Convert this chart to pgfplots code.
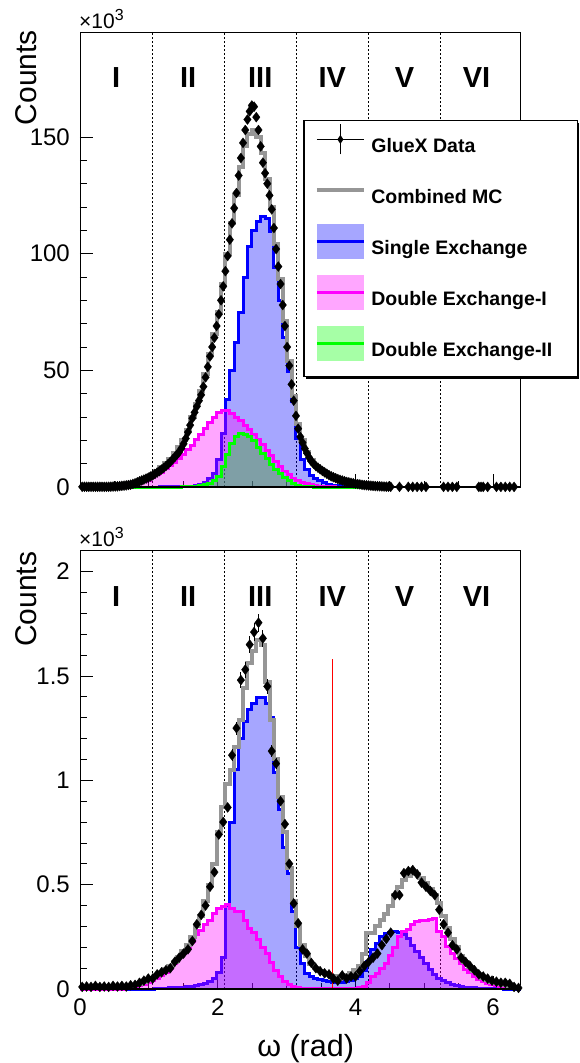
\documentclass[border=0pt]{standalone}
\usepackage{fontspec}
\setmainfont{Liberation Sans}
\usepackage{pgfplots}
\usepackage{pgfplotstable}
\pgfplotsset{compat=1.18}
\definecolor{rootgray}{RGB}{150,150,150}
\definecolor{rblue}{RGB}{0,0,255}
\definecolor{rmag}{RGB}{255,0,255}
\definecolor{rgreen}{RGB}{0,255,0}
\definecolor{rred}{RGB}{255,0,0}

% top panel: bin left edge, single, double-I, double-II, combined (x10^3)
\pgfplotstableread{
e b m g c
0.512 0 0.2 0 0.3
0.576 0 0.4 0 0.5
0.640 0 0.6 0 0.7
0.704 0 0.9 0 1.1
0.768 0 1.2 0 1.6
0.832 0 1.6 0 2.4
0.896 0 2.2 0 3.3
0.960 0 3.0 0 4.4
1.024 0 4.0 0 5.7
1.088 0 5.2 0 7.0
1.152 0.05 6.4 0 8.5
1.216 0.1 7.8 0 10.2
1.280 0.1 9.2 0 12.2
1.344 0.15 10.7 0 14.4
1.408 0.2 12.3 0 17.0
1.472 0.25 14.0 0.05 20.3
1.536 0.3 16.0 0.1 24.5
1.600 0.4 18.0 0.15 30.0
1.664 0.6 20.2 0.3 35.5
1.728 1.2 22.5 0.5 41.0
1.792 2.0 25.0 0.9 48.5
1.856 3.5 27.5 1.5 57.0
1.920 6.0 30.0 2.8 65.5
1.984 12.0 32.0 4.5 75.0
2.048 22.9 33.0 8.6 87.0
2.112 37.5 32.8 14.0 100.0
2.176 50.0 31.5 18.8 113.0
2.240 62.0 30.0 21.5 125.0
2.304 75.0 28.5 22.8 137.0
2.368 90.0 26.5 22.6 146.0
2.432 103.0 24.5 21.5 151.5
2.496 110.0 22.7 19.8 153.0
2.560 114.0 20.5 17.0 150.0
2.624 115.8 18.3 14.5 143.0
2.688 115.0 15.7 12.2 132.0
2.752 109.5 13.3 9.5 120.0
2.816 94.0 11.0 7.5 104.0
2.880 80.0 8.6 5.6 89.0
2.944 64.0 6.8 4.0 71.0
3.008 49.5 5.2 2.7 54.0
3.072 36.6 3.6 1.5 39.0
3.136 21.0 2.6 0.8 27.0
3.200 12.0 1.8 0.4 20.0
3.264 7.5 1.3 0.2 15.0
3.328 5.0 0.9 0.1 11.5
3.392 3.8 0.6 0 9.2
3.456 2.8 0.4 0 7.7
3.520 1.8 0.2 0 6.4
3.584 1.2 0.1 0 5.2
3.648 0.8 0.05 0 4.3
3.712 0.5 0 0 3.5
3.776 0.3 0 0 2.8
3.840 0.2 0 0 2.2
3.904 0.1 0 0 1.8
3.968 0.05 0 0 1.4
4.032 0 0 0 1.1
4.096 0 0 0 0.85
4.160 0 0 0 0.65
4.224 0 0 0 0.5
4.288 0 0 0 0.35
4.352 0 0 0 0.25
4.416 0 0 0 0.15
4.480 0 0 0 0.1
4.544 0 0 0 0.1
}\toptab

\pgfplotstableread{
x y
0.032 0.1
0.064 0.1
0.096 0.1
0.128 0.1
0.160 0.1
0.192 0.1
0.224 0.1
0.256 0.1
0.288 0.1
0.320 0.1
0.352 0.1
0.384 0.1
0.416 0.1
0.448 0.15
0.480 0.2
0.512 0.25
0.544 0.3
0.576 0.4
0.608 0.5
0.640 0.6
0.672 0.7
0.704 0.85
0.736 1.0
0.768 1.3
0.800 1.6
0.832 2.0
0.864 2.4
0.896 2.8
0.928 3.2
0.960 3.6
0.992 4.0
1.024 4.5
1.056 5.0
1.088 5.6
1.120 6.2
1.152 6.8
1.184 7.5
1.216 8.2
1.248 9.0
1.280 9.9
1.312 10.8
1.344 11.8
1.376 12.8
1.408 13.9
1.440 15.0
1.472 16.6
1.504 18.5
1.536 20.8
1.568 23.5
1.600 26.5
1.632 29.5
1.664 32.0
1.696 34.5
1.728 37.0
1.760 39.5
1.792 43.0
1.824 47
1.856 51.5
1.888 56
1.920 60
1.952 64
1.984 69
2.016 74
2.048 80
2.080 86
2.112 92.5
2.144 99
2.176 106
2.208 113
2.240 119.5
2.272 126
2.304 133.5
2.336 141
2.368 147.5
2.400 153
2.432 157.5
2.464 161
2.496 163.5
2.528 163
2.560 158.5
2.592 153
2.624 146
2.656 139
2.688 134.5
2.720 130
2.752 125
2.784 119
2.816 111
2.848 102
2.880 94.5
2.912 87
2.944 78
2.976 69
3.008 60
3.040 52
3.072 44
3.104 37
3.136 30.5
3.168 25
3.200 21.5
3.232 19
3.264 16.5
3.296 14.5
3.328 12.6
3.360 11
3.392 10
3.424 9
3.456 8.3
3.488 7.6
3.520 6.9
3.552 6.3
3.584 5.7
3.616 5.1
3.648 4.6
3.680 4.2
3.712 3.8
3.744 3.4
3.776 3.1
3.808 2.8
3.840 2.5
3.872 2.2
3.904 2.0
3.936 1.8
3.968 1.6
4.000 1.4
4.032 1.25
4.064 1.1
4.096 0.95
4.128 0.85
4.160 0.75
4.192 0.65
4.224 0.55
4.256 0.5
4.288 0.42
4.320 0.35
4.352 0.3
4.384 0.25
4.416 0.2
4.448 0.15
4.480 0.12
4.512 0.1
4.640 0.05
4.768 0.05
4.832 0.05
4.896 0.05
4.960 0.05
5.024 0.05
5.280 0.05
5.344 0.05
5.408 0.05
5.472 0.05
5.792 0.05
5.824 0.05
5.856 0.05
5.920 0.05
6.048 0.05
6.112 0.05
6.176 0.05
6.240 0.05
6.304 0.05
}\topdata

% bottom panel: bin left edge, single, double-I, combined (x10^3)
\pgfplotstableread{
e b m c
0.000 0 0 0.01
0.064 0 0 0.01
0.128 0 0 0.01
0.192 0 0 0.01
0.256 0 0 0.01
0.320 0 0 0.01
0.384 0 0 0.01
0.448 0 0 0.01
0.512 0 0 0.012
0.576 0 0 0.012
0.640 0 0.003 0.013
0.704 0 0.005 0.015
0.768 0 0.01 0.02
0.832 0 0.015 0.025
0.896 0 0.02 0.035
0.960 0 0.03 0.045
1.024 0 0.04 0.055
1.088 0.002 0.05 0.065
1.152 0.003 0.065 0.08
1.216 0.004 0.08 0.095
1.280 0.005 0.10 0.11
1.344 0.006 0.12 0.13
1.408 0.007 0.15 0.155
1.472 0.008 0.17 0.18
1.536 0.01 0.20 0.21
1.600 0.012 0.23 0.25
1.664 0.015 0.26 0.30
1.728 0.02 0.28 0.35
1.792 0.025 0.31 0.42
1.856 0.035 0.33 0.50
1.920 0.05 0.36 0.60
1.984 0.08 0.385 0.75
2.048 0.15 0.395 0.87
2.112 0.40 0.405 0.98
2.176 0.80 0.385 1.05
2.240 1.05 0.37 1.16
2.304 1.20 0.37 1.29
2.368 1.28 0.33 1.44
2.432 1.34 0.29 1.56
2.496 1.37 0.27 1.62
2.560 1.395 0.235 1.67
2.624 1.395 0.20 1.65
2.688 1.37 0.17 1.47
2.752 1.30 0.125 1.29
2.816 1.035 0.09 1.10
2.880 0.86 0.06 0.92
2.944 0.68 0.035 0.75
3.008 0.555 0.02 0.58
3.072 0.37 0.01 0.42
3.136 0.20 0.005 0.30
3.200 0.12 0.004 0.21
3.264 0.075 0.003 0.16
3.328 0.06 0.003 0.12
3.392 0.05 0.003 0.10
3.456 0.045 0.003 0.085
3.520 0.04 0.003 0.075
3.584 0.035 0.003 0.065
3.648 0.03 0.003 0.06
3.712 0.03 0.003 0.06
3.776 0.03 0.003 0.06
3.840 0.035 0.003 0.065
3.904 0.04 0.003 0.075
3.968 0.05 0.004 0.09
4.032 0.06 0.005 0.11
4.096 0.09 0.01 0.17
4.160 0.13 0.03 0.27
4.224 0.19 0.06 0.27
4.288 0.22 0.075 0.30
4.352 0.25 0.10 0.33
4.416 0.265 0.12 0.36
4.480 0.27 0.16 0.40
4.544 0.275 0.20 0.45
4.608 0.27 0.25 0.49
4.672 0.26 0.275 0.52
4.736 0.24 0.285 0.54
4.800 0.21 0.31 0.55
4.864 0.18 0.325 0.55
4.928 0.15 0.33 0.53
4.992 0.12 0.33 0.51
5.056 0.095 0.335 0.48
5.120 0.07 0.34 0.45
5.184 0.05 0.275 0.41
5.248 0.04 0.25 0.35
5.312 0.03 0.205 0.29
5.376 0.02 0.17 0.24
5.440 0.015 0.145 0.20
5.504 0.01 0.12 0.16
5.568 0.008 0.095 0.13
5.632 0.006 0.08 0.105
5.696 0.005 0.06 0.085
5.760 0.004 0.045 0.07
5.824 0.003 0.035 0.055
5.888 0.002 0.025 0.045
5.952 0.002 0.02 0.035
6.016 0.001 0.015 0.03
6.080 0.001 0.01 0.025
6.144 0 0.008 0.02
6.208 0 0.005 0.015
6.272 0 0.003 0.01
6.336 0 0.002 0.01
6.400 0 0.002 0.01
}\bottab

\pgfplotstableread{
x y
0.032 0.010
0.096 0.012
0.160 0.010
0.224 0.015
0.288 0.010
0.352 0.012
0.416 0.010
0.480 0.015
0.544 0.012
0.608 0.015
0.672 0.012
0.736 0.018
0.800 0.020
0.864 0.030
0.928 0.040
0.992 0.050
1.056 0.050
1.120 0.070
1.184 0.080
1.248 0.090
1.312 0.100
1.376 0.130
1.440 0.150
1.504 0.170
1.568 0.190
1.632 0.230
1.696 0.310
1.760 0.355
1.824 0.400
1.888 0.490
1.952 0.560
2.016 0.740
2.080 0.800
2.144 0.870
2.208 1.120
2.272 1.250
2.336 1.480
2.400 1.530
2.464 1.650
2.528 1.710
2.592 1.755
2.656 1.680
2.720 1.450
2.784 1.140
2.848 1.080
2.912 0.900
2.976 0.790
3.040 0.600
3.104 0.410
3.168 0.315
3.232 0.190
3.296 0.170
3.360 0.125
3.424 0.100
3.488 0.085
3.552 0.075
3.616 0.070
3.680 0.050
3.744 0.040
3.808 0.065
3.872 0.050
3.936 0.060
4.000 0.060
4.064 0.085
4.128 0.110
4.192 0.130
4.256 0.150
4.320 0.170
4.384 0.210
4.448 0.240
4.512 0.270
4.576 0.450
4.640 0.450
4.704 0.555
4.768 0.565
4.832 0.570
4.896 0.550
4.960 0.510
5.024 0.490
5.088 0.470
5.152 0.450
5.216 0.380
5.280 0.310
5.344 0.270
5.408 0.210
5.472 0.190
5.536 0.150
5.600 0.130
5.664 0.110
5.728 0.090
5.792 0.070
5.856 0.060
5.920 0.050
5.984 0.040
6.048 0.035
6.112 0.030
6.176 0.030
6.240 0.025
6.304 0.010
6.368 0.005
}\botdata

\tikzset{
  regline/.style={black, dash pattern=on 2pt off 2pt, line width=0.7pt},
  reglab/.style={font=\fontsize{29}{29}\selectfont\bfseries, inner sep=0pt},
}
\pgfplotsset{
  rootaxis/.style={
    scale only axis, width=440.7pt,
    xmin=0, xmax=6.4, ymin=0,
    xtick={0,2,4,6}, minor x tick num=3,
    tick align=inside, tick pos=left,
    major tick length=13pt, minor tick length=6.5pt,
    tick style={black, line width=0.8pt},
    axis line style={line width=0.8pt},
    tick label style={font=\fontsize{24}{24}\selectfont},
    /pgf/number format/assume math mode=true,
    yticklabel style={inner sep=0pt, xshift=-10pt},
    xticklabel style={inner sep=0pt, yshift=-10pt},
    scaled ticks=false,
    clip=false,
  },
  hfill/.style={const plot, draw=none, fill=#1, fill opacity=0.35, forget plot},
  hline/.style={const plot, #1, line width=3pt, forget plot},
  datapts/.style={only marks, mark=diamond*, mark size=5pt,
    mark options={fill=black, draw=black, line width=0.3pt}, black, forget plot},
}

\begin{document}
\begin{tikzpicture}
% ---------------- top panel ----------------
\begin{axis}[rootaxis, at={(80pt,-32pt)}, anchor=north west, height=455pt,
  ymax=195, ytick={0,50,100,150}, minor y tick num=4, xticklabels={},
  legend cell align=left,
  legend style={at={(0.5067,0.8066)}, anchor=north west, draw=black, line width=1.2pt,
    fill=white,
    inner xsep=11pt, inner ysep=1pt, row sep=15.4pt, column sep=3.5pt,
    font=\fontsize{19.5}{20}\selectfont\bfseries}]
\foreach \xv in {1.0472,2.0944,3.1416,4.1888,5.2360} {
  \edef\tmp{\noexpand\draw[regline] (axis cs:\xv,0) -- (axis cs:\xv,195);}\tmp
}
\addplot[hfill=rblue] table[x=e,y=b]{\toptab} \closedcycle;
\addplot[hline=rblue] table[x=e,y=b]{\toptab};
\addplot[hfill=rmag] table[x=e,y=m]{\toptab} \closedcycle;
\addplot[hline=rmag] table[x=e,y=m]{\toptab};
\addplot[hfill=rgreen] table[x=e,y=g]{\toptab} \closedcycle;
\addplot[hline=rgreen] table[x=e,y=g]{\toptab};
\addplot[const plot, rootgray, line width=4pt, forget plot] table[x=e,y=c]{\toptab};
\addplot[black, line width=2.5pt, forget plot] coordinates {(0,0) (6.4,0)};
\addplot[datapts, error bars/.cd, x dir=both, x fixed=0.016, error mark=none,
  error bar style={line width=0.8pt, black}] table[x=x,y=y]{\topdata};
\node[reglab] at (axis cs:0.5236,175.6) {I};
\node[reglab] at (axis cs:1.5708,175.6) {II};
\node[reglab] at (axis cs:2.6180,175.6) {III};
\node[reglab] at (axis cs:3.6652,175.6) {IV};
\node[reglab] at (axis cs:4.7124,175.6) {V};
\node[reglab] at (axis cs:5.7596,175.6) {VI};
% legend shadow
\fill[black] (axis description cs:0.5135,0.2382) rectangle (axis description cs:1.1316,0.8);
% legend
\addlegendimage{legend image code/.code={
  \path[draw=none, fill=none] (0pt,-10.8pt) rectangle (47pt,24.8pt);
  \draw[black, line width=0.8pt] (0pt,7pt) -- (47pt,7pt) (23.5pt,-8pt) -- (23.5pt,22pt);
  \fill[black, draw=none] (23.5pt,11.5pt) -- (26.5pt,7pt) -- (23.5pt,2.5pt) -- (20.5pt,7pt) -- cycle;}}
\addlegendentry{\makebox[192.9pt][l]{GlueX Data}}
\addlegendimage{legend image code/.code={
  \path[draw=none, fill=none] (0pt,-10.8pt) rectangle (47pt,24.8pt);
  \draw[rootgray, line width=4pt] (0pt,7pt) -- (47pt,7pt);}}
\addlegendentry{\makebox[192.9pt][l]{Combined MC}}
\addlegendimage{legend image code/.code={
  \fill[rblue, draw=none, opacity=0.35] (0pt,-10.8pt) rectangle (47pt,24.8pt);
  \draw[rblue, line width=3pt] (0pt,7pt) -- (47pt,7pt);}}
\addlegendentry{\makebox[192.9pt][l]{Single Exchange}}
\addlegendimage{legend image code/.code={
  \fill[rmag, draw=none, opacity=0.35] (0pt,-10.8pt) rectangle (47pt,24.8pt);
  \draw[rmag, line width=3pt] (0pt,7pt) -- (47pt,7pt);}}
\addlegendentry{\makebox[192.9pt][l]{Double Exchange-I}}
\addlegendimage{legend image code/.code={
  \path[draw=none, fill=none] (0pt,-24.8pt) rectangle (47pt,24.8pt);
  \fill[rgreen, draw=none, opacity=0.35] (0pt,-10.8pt) rectangle (47pt,24.8pt);
  \draw[rgreen, line width=3pt] (0pt,7pt) -- (47pt,7pt);}}
\addlegendentry{\makebox[192.9pt][l]{Double Exchange-II}}
\end{axis}

% ---------------- bottom panel ----------------
\begin{axis}[rootaxis, at={(80pt,-550.7pt)}, anchor=north west, height=438.3pt,
  ymax=2.1, ytick={0,0.5,1,1.5,2}, minor y tick num=4]
\foreach \xv in {1.0472,2.0944,3.1416,4.1888,5.2360} {
  \edef\tmp{\noexpand\draw[regline] (axis cs:\xv,0) -- (axis cs:\xv,2.1);}\tmp
}
\addplot[hfill=rblue] table[x=e,y=b]{\bottab} \closedcycle;
\addplot[hline=rblue] table[x=e,y=b]{\bottab};
\addplot[hfill=rmag] table[x=e,y=m]{\bottab} \closedcycle;
\addplot[hline=rmag] table[x=e,y=m]{\bottab};
\addplot[const plot, rootgray, line width=4pt, forget plot] table[x=e,y=c]{\bottab};
\addplot[rred, line width=1.2pt, forget plot] coordinates {(3.67,0) (3.67,1.58)};
\addplot[black, line width=2.5pt, forget plot] coordinates {(0,0) (6.4,0)};
\addplot[datapts, error bars/.cd, x dir=both, x fixed=0.032, y dir=both, y fixed relative=0.025,
  error mark=none, error bar style={line width=0.8pt, black}] table[x=x,y=y]{\botdata};
\node[reglab] at (axis cs:0.5236,1.881) {I};
\node[reglab] at (axis cs:1.5708,1.881) {II};
\node[reglab] at (axis cs:2.6180,1.881) {III};
\node[reglab] at (axis cs:3.6652,1.881) {IV};
\node[reglab] at (axis cs:4.7124,1.881) {V};
\node[reglab] at (axis cs:5.7596,1.881) {VI};
\end{axis}

% axis titles and multipliers
\node[rotate=90, anchor=base east, inner sep=0pt, font=\fontsize{30}{30}\selectfont] at (36.7pt,-30pt) {Counts};
\node[rotate=90, anchor=base east, inner sep=0pt, font=\fontsize{30}{30}\selectfont] at (36.7pt,-551.7pt) {Counts};
\node[anchor=base west, inner sep=0pt, font=\fontsize{21}{21}\selectfont] at (79pt,-28.3pt) {×10\raisebox{8pt}{\fontsize{16}{16}\selectfont 3}};
\node[anchor=base west, inner sep=0pt, font=\fontsize{21}{21}\selectfont] at (79pt,-546.7pt) {×10\raisebox{8pt}{\fontsize{16}{16}\selectfont 3}};
\node[anchor=base, inner sep=0pt, font=\fontsize{30.5}{30.5}\selectfont] at (305.6pt,-1056pt) {ω (rad)};

\pgfresetboundingbox
\path[use as bounding box] (0,0) rectangle (579pt,-1063pt);
\end{tikzpicture}
\end{document}
